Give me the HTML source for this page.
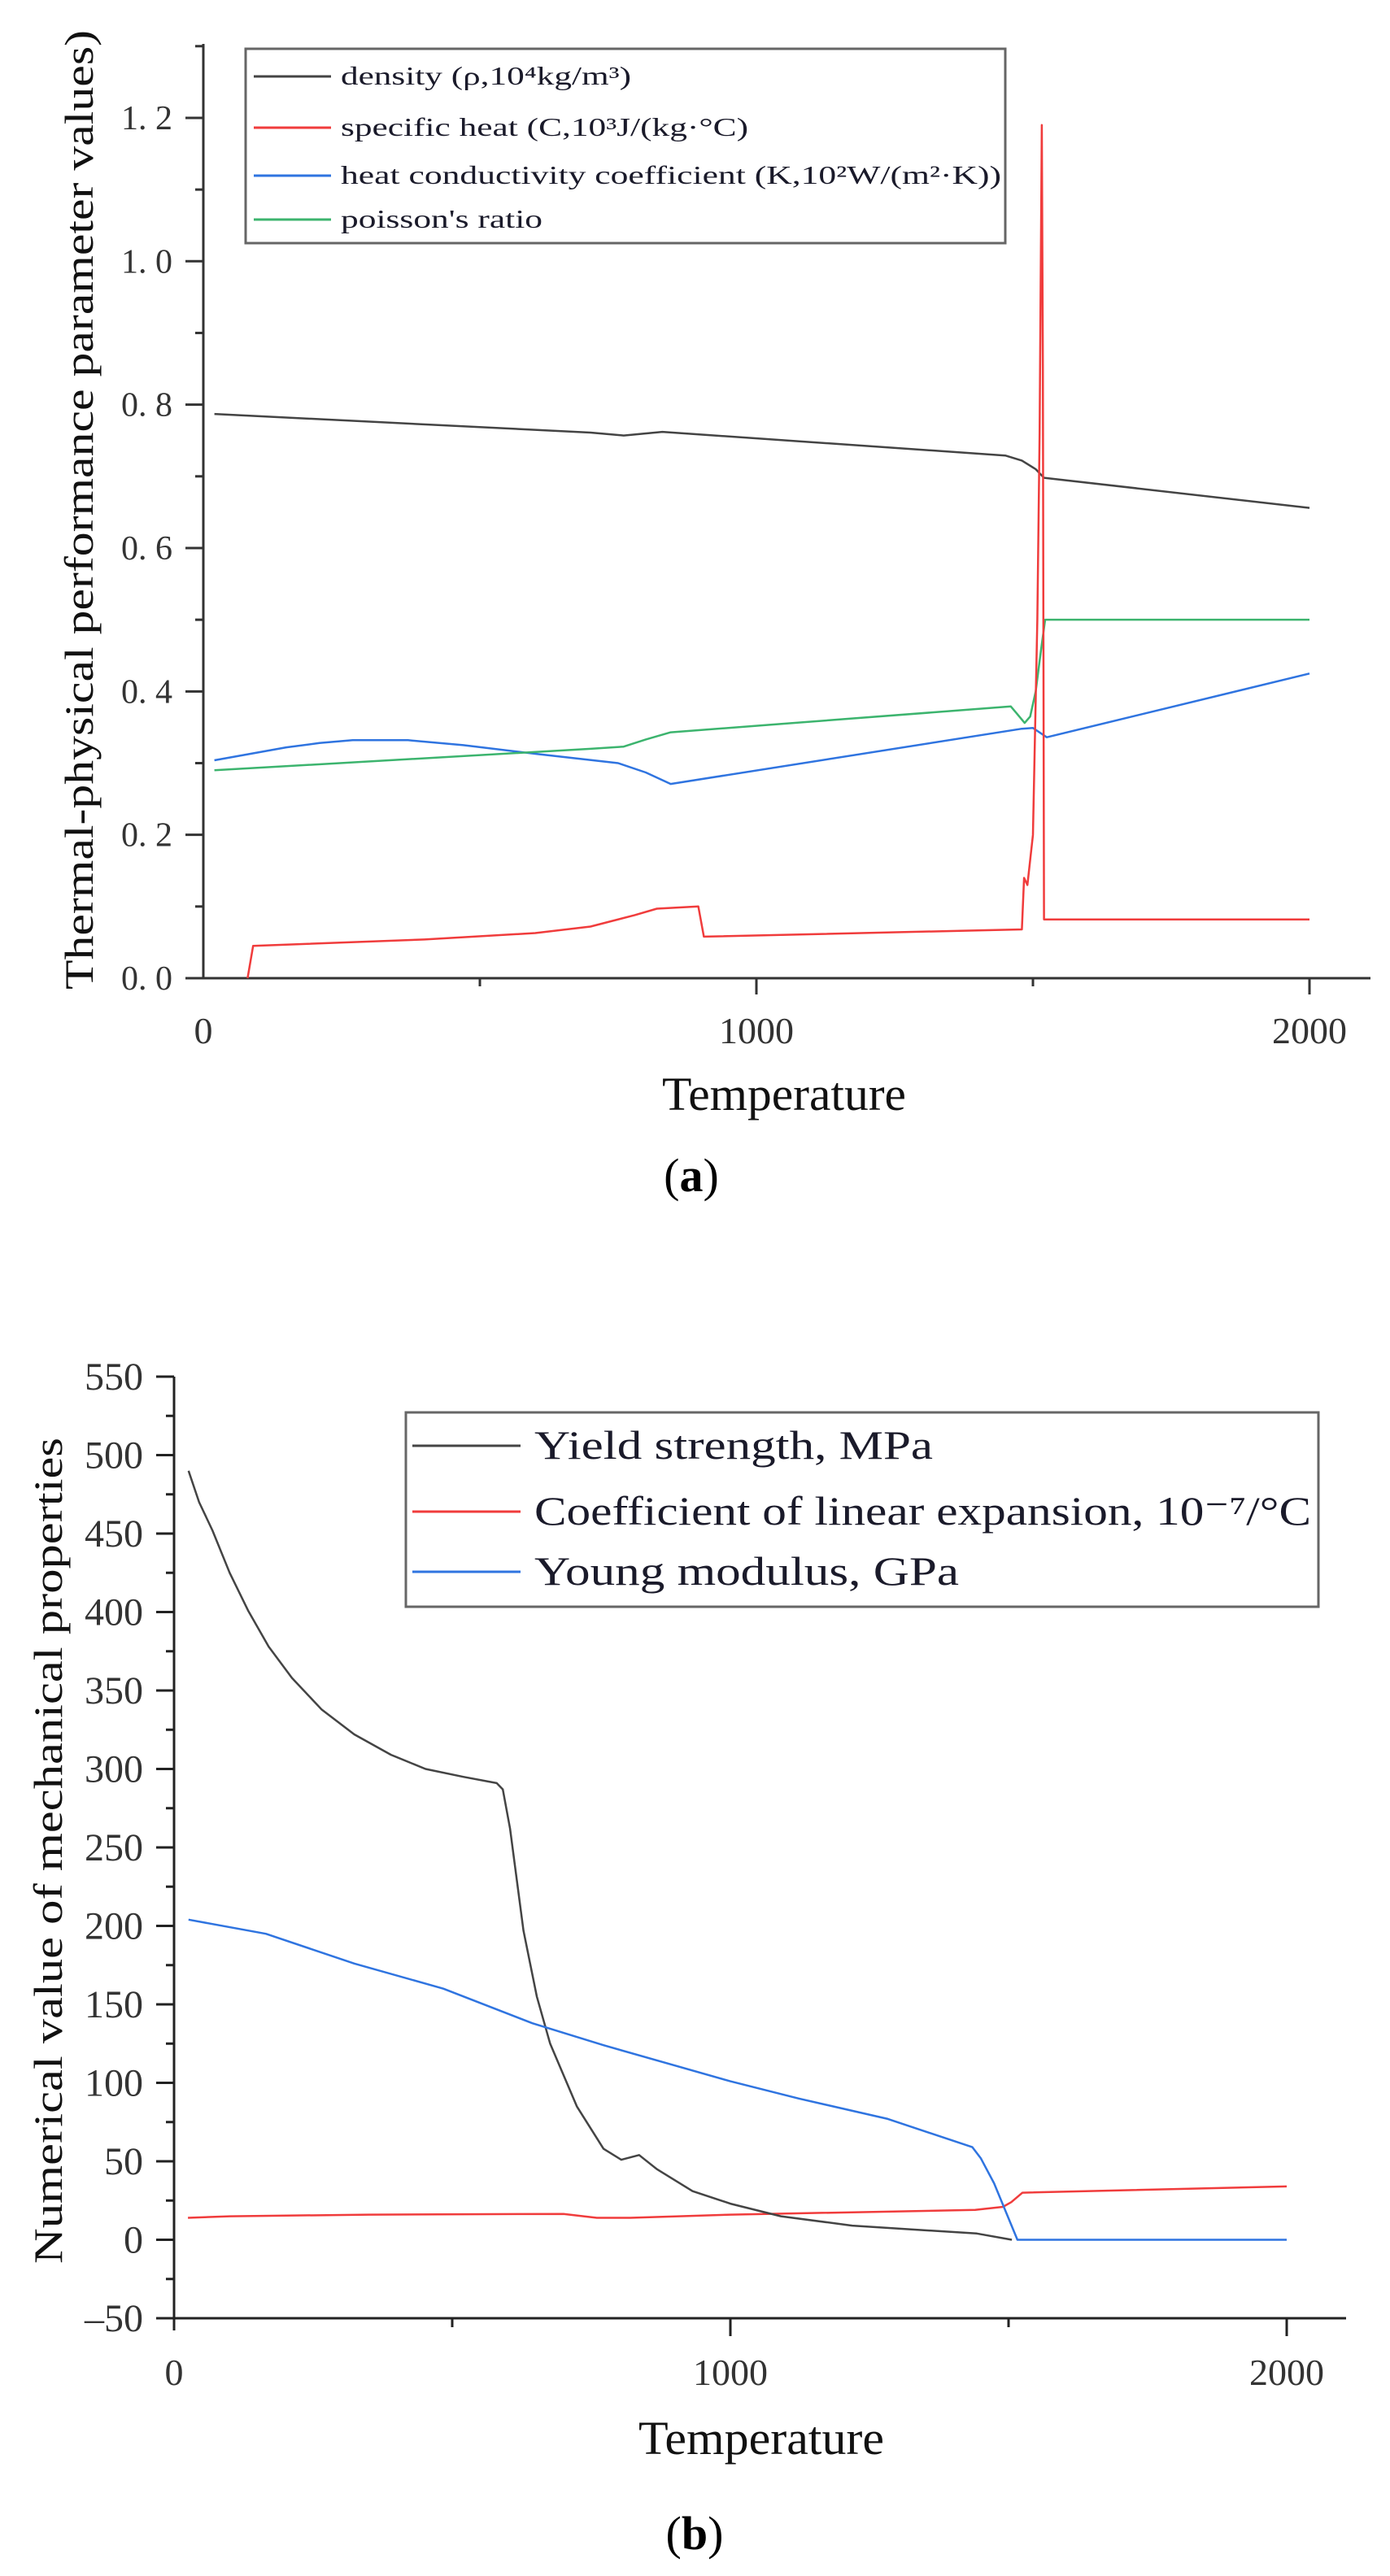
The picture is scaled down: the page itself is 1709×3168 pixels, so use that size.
<!DOCTYPE html>
<html><head><meta charset="utf-8"><style>
html,body{margin:0;padding:0;background:#fff;}
svg{display:block;font-family:"Liberation Serif",serif;}
</style></head><body>
<svg id="svg" width="1709" height="3168" viewBox="0 0 1709 3168" xmlns="http://www.w3.org/2000/svg">
<g id="chartA"></g>
<g id="chartB"></g>
</svg>
<script>
// ---------- Chart (a) data ----------
const aTicksX = [0, 1000, 2000];
const aTicksY = [0, 0.2, 0.4, 0.6, 0.8, 1.0, 1.2];
const aTickYLabels = ["0. 0","0. 2","0. 4","0. 6","0. 8","1. 0","1. 2"];
const densityT = [20,700,760,830,1450,1480,1505,1520,2000];
const densityV = [0.787,0.761,0.757,0.762,0.729,0.722,0.710,0.698,0.656];
const heatT = [80,90,400,600,700,780,820,895,905,1480,1484,1490,1500,1508,1512,1516,1518,1520,2000];
const heatV = [0,0.045,0.054,0.063,0.072,0.088,0.097,0.100,0.058,0.068,0.14,0.13,0.2,0.5,0.76,1.19,0.85,0.082,0.082];
const condT = [20,150,210,270,370,470,600,750,800,845,1480,1500,1525,2000];
const condV = [0.304,0.322,0.328,0.332,0.332,0.325,0.313,0.300,0.287,0.271,0.348,0.349,0.336,0.425];
const poisT = [20,700,760,800,845,1460,1470,1485,1495,1505,1515,1522,2000];
const poisV = [0.290,0.320,0.323,0.333,0.343,0.379,0.370,0.356,0.365,0.40,0.46,0.50,0.50];
// ---------- Chart (b) data ----------
const bTicksX = [0, 1000, 2000];
const bTicksY = [-50,0,50,100,150,200,250,300,350,400,450,500,550];
const yieldT = [26,45,69,100,133,170,212,265,324,390,452,520,580,591,604,628,652,676,724,772,804,836,868,932,1000,1091,1219,1443,1506];
const yieldV = [490,470,452,425,401,378,358,338,322,309,300,295,291,287,262,197,155,125,85,58,51,54,45,31,23,15,9,4,0];
const expT = [25,100,350,700,760,820,1000,1440,1490,1505,1525,2000];
const expV = [14,15,16,16.5,14,14,16,19,21,24,30,34];
const youngT = [26,165,324,484,644,772,1000,1123,1283,1435,1450,1474,1516,2000];
const youngV = [204,195,176,160,138,124,101,90,77,59,52,36,0,0];

const NS="http://www.w3.org/2000/svg";
function mk(parent,tag,attrs,text){const e=document.createElementNS(NS,tag);for(const k in attrs)e.setAttribute(k,attrs[k]);if(text!==undefined)e.textContent=text;parent.appendChild(e);return e;}

// ---------- Chart A ----------
(function(){
const g=document.getElementById('chartA');
const x=t=>250+t*0.68, y=v=>1203-v*881.7;
const ax=mk(g,'path',{d:`M250 54 V1203 M250 1203 H1685`,stroke:'#333',fill:'none','stroke-width':3});


for(let v=0;v<=1.3001;v+=0.1){const major=Math.round(v*10)%2===0;
 const t=mk(g,'line',{x1:250-(major?22:10),x2:250,y1:y(v),y2:y(v),stroke:'#333','stroke-width':3});
 
 }
aTicksY.forEach((v,i)=>{const t=mk(g,'text',{x:212,y:y(v)+14,'text-anchor':'end','font-size':42,fill:'#333'},aTickYLabels[i]);
 
 });
[500,1000,1500,2000].forEach(v=>{const major=v%1000===0;
 const t=mk(g,'line',{x1:x(v),x2:x(v),y1:1203,y2:1203+(major?20:10),stroke:'#333','stroke-width':3});
 
 });
aTicksX.forEach(v=>{const t=mk(g,'text',{x:x(v),y:1283,'text-anchor':'middle','font-size':46,fill:'#333'},String(v));
 
 });
const xt=mk(g,'text',{x:964,y:1365,'text-anchor':'middle','font-size':58,fill:'#111',textLength:300,lengthAdjust:'spacingAndGlyphs'},'Temperature');


const yt=mk(g,'text',{x:0,y:0,'text-anchor':'middle','font-size':50,fill:'#111',transform:'translate(114,627) rotate(-90)',textLength:1180,lengthAdjust:'spacingAndGlyphs'},'Thermal-physical performance parameter values)');


const series=[[densityT,densityV,'#444','density-line'],[condT,condV,'#2f74e0','conductivity-line'],[poisT,poisV,'#3cb46e','poisson-line'],[heatT,heatV,'#f03c3c','specific-heat-line']];
series.forEach(s=>{const d=s[0].map((t,i)=>(i?'L':'M')+x(t).toFixed(1)+' '+y(s[1][i]).toFixed(1)).join(' ');
 const p=mk(g,'path',{d,stroke:s[2],fill:'none','stroke-width':2.5,'stroke-linejoin':'round'});
 
 });
const lg=mk(g,'g',{});


mk(lg,'rect',{x:302,y:60,width:934,height:239,fill:'#fff',stroke:'#666','stroke-width':3});
const items=[['#444','density (ρ,10⁴kg/m³)',357,94],['#f03c3c','specific heat (C,10³J/(kg·°C)',501,157],['#2f74e0','heat conductivity coefficient (K,10²W/(m²·K))',812,216],['#3cb46e',"poisson's ratio",248,270]];
items.forEach(it=>{const e=mk(lg,'g',{});
 
 
 mk(e,'line',{x1:312,x2:407,y1:it[3],y2:it[3],stroke:it[0],'stroke-width':3});
 mk(e,'text',{x:419,y:it[3]+10,'font-size':32,fill:'#1a1a2a',textLength:it[2],lengthAdjust:'spacingAndGlyphs'},it[1]);});
const cap=mk(g,'text',{x:850,y:1465,'text-anchor':'middle','font-size':58,fill:'#000'},'');


mk(cap,'tspan',{},'(');mk(cap,'tspan',{'font-weight':'bold'},'a');mk(cap,'tspan',{},')');
})();

// ---------- Chart B ----------
(function(){
const g=document.getElementById('chartB');
const x=t=>214+t*0.684, y=v=>2754.5-v*1.93;
const ax=mk(g,'path',{d:`M214 1693 V2866 M214 2851 H1655`,stroke:'#222',fill:'none','stroke-width':3});


for(let v=-50;v<=550;v+=25){const major=v%50===0;
 const t=mk(g,'line',{x1:214-(major?22:10),x2:214,y1:y(v),y2:y(v),stroke:'#222','stroke-width':3});
 
 }
bTicksY.forEach(v=>{const t=mk(g,'text',{x:176,y:y(v)+16,'text-anchor':'end','font-size':48,fill:'#333'},v<0?'–'+Math.abs(v):String(v));
 
 });
[500,1000,1500,2000].forEach(v=>{const major=v%1000===0;
 const t=mk(g,'line',{x1:x(v),x2:x(v),y1:2851,y2:2851+(major?22:11),stroke:'#222','stroke-width':3});
 
 });
bTicksX.forEach(v=>{const t=mk(g,'text',{x:x(v),y:2933,'text-anchor':'middle','font-size':46,fill:'#333'},String(v));
 
 });
const xt=mk(g,'text',{x:936,y:3018,'text-anchor':'middle','font-size':58,fill:'#111',textLength:302,lengthAdjust:'spacingAndGlyphs'},'Temperature');


const yt=mk(g,'text',{x:0,y:0,'text-anchor':'middle','font-size':50,fill:'#111',transform:'translate(76,2276) rotate(-90)',textLength:1016,lengthAdjust:'spacingAndGlyphs'},'Numerical value of mechanical properties');


const series=[[expT,expV,'#f03c3c','expansion-line'],[yieldT,yieldV,'#444','yield-strength-line'],[youngT,youngV,'#2f74e0','young-modulus-line']];
series.forEach(s=>{const d=s[0].map((t,i)=>(i?'L':'M')+x(t).toFixed(1)+' '+y(s[1][i]).toFixed(1)).join(' ');
 const p=mk(g,'path',{d,stroke:s[2],fill:'none','stroke-width':2.5,'stroke-linejoin':'round'});
 
 });
const lg=mk(g,'g',{});


mk(lg,'rect',{x:499,y:1737,width:1122,height:239,fill:'#fff',stroke:'#666','stroke-width':3});
const items=[['#444','Yield strength, MPa',490,1778],['#f03c3c','Coefficient of linear expansion, 10⁻⁷/°C',955,1859],['#2f74e0','Young modulus, GPa',522,1933]];
items.forEach(it=>{const e=mk(lg,'g',{});
 
 
 mk(e,'line',{x1:507,x2:640,y1:it[3],y2:it[3],stroke:it[0],'stroke-width':3});
 mk(e,'text',{x:657,y:it[3]+16,'font-size':50,fill:'#1a1a2a',textLength:it[2],lengthAdjust:'spacingAndGlyphs'},it[1]);});
const cap=mk(g,'text',{x:854,y:3135,'text-anchor':'middle','font-size':58,fill:'#000'},'');


mk(cap,'tspan',{},'(');mk(cap,'tspan',{'font-weight':'bold'},'b');mk(cap,'tspan',{},')');
})();
</script>
</body></html>
